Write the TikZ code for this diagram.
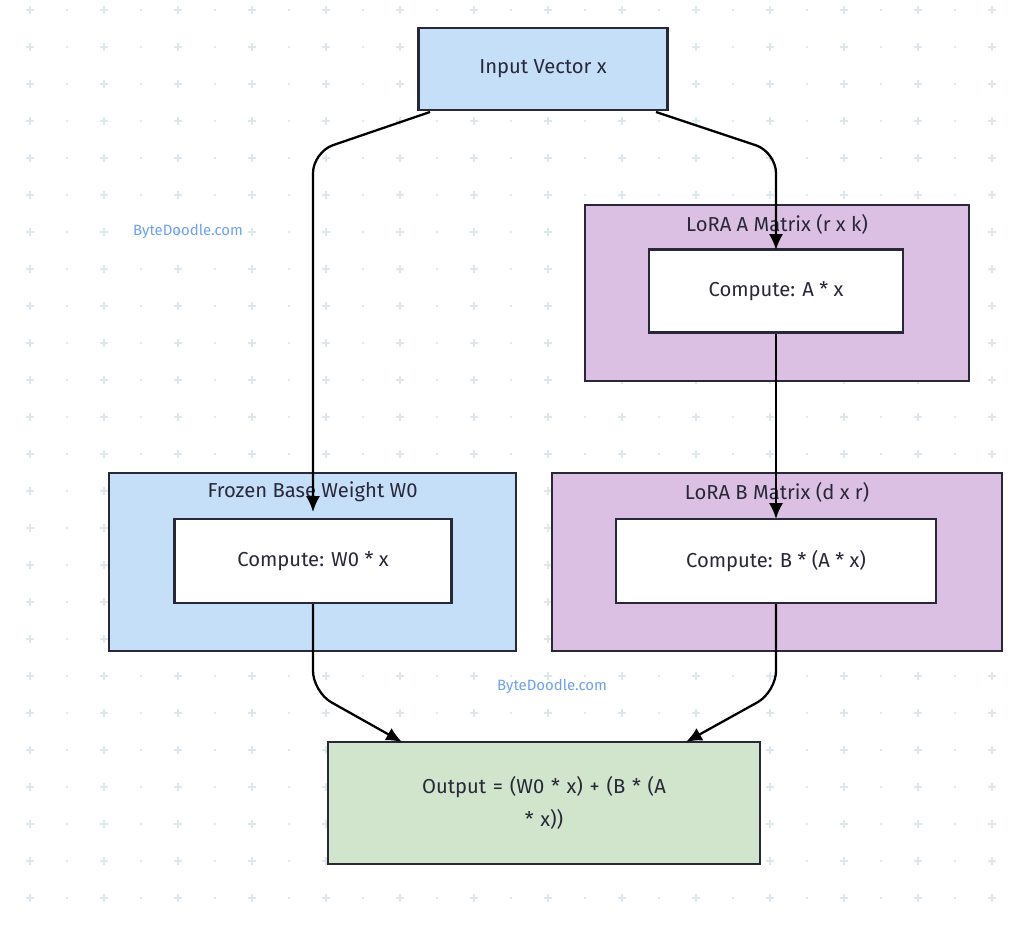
\documentclass[tikz,border=0pt]{standalone}
\usepackage{fontspec}
\setmainfont{Fira Sans}
\usetikzlibrary{arrows.meta,positioning}
\definecolor{inkdark}{RGB}{40,40,56}
\definecolor{baseblue}{RGB}{197,223,248}
\definecolor{lorapurple}{RGB}{220,192,228}
\definecolor{outgreen}{RGB}{208,229,203}
\definecolor{gridgray}{RGB}{222,232,236}
\definecolor{markblue}{RGB}{110,160,240}

\tikzset{
  box/.style={draw=inkdark,line width=1.3pt,font=\fontsize{11.5}{15}\selectfont,text=inkdark,inner sep=0pt},
  group/.style={box,anchor=north west},
  flow/.style={draw=black,line width=1.3pt,rounded corners=12pt,-{Latex[length=9pt,width=8pt]}},
  watermark/.style={text=markblue,font=\fontsize{8.5}{10}\selectfont}
}

\begin{document}
\begin{tikzpicture}[x=0.02cm,y=-0.02cm]
        \useasboundingbox (0,0) rectangle (1024,929);
        % Background dots and crosses
        \foreach \i in {0,...,27} {
            \foreach \j in {0,...,25} {
                \pgfmathsetmacro{\px}{30+37*\i}
                \pgfmathsetmacro{\py}{10+37*\j}
                \ifodd\i
                    \fill[gridgray] (\px,\py) circle (1.3);
                \else
                    \draw[gridgray,line width=0.8pt] (\px-4,\py) -- (\px+4,\py) (\px,\py-4) -- (\px,\py+4);
                \fi
            }
        }

        % Groups
        \node[group,fill=lorapurple,minimum width=7.68cm,minimum height=3.52cm] (groupA) at (584,204) {};
        \node[anchor=north,box,draw=none] at ([yshift=-0.18cm]groupA.north) {LoRA A Matrix (r x k)};
        \node[group,fill=baseblue,minimum width=8.14cm,minimum height=3.56cm] (groupW) at (108,472) {};
        \node[anchor=north,box,draw=none] at ([yshift=-0.18cm]groupW.north) {Frozen Base Weight W0};
        \node[group,fill=lorapurple,minimum width=9.0cm,minimum height=3.56cm] (groupB) at (551,472) {};
        \node[anchor=north,box,draw=none] at ([yshift=-0.18cm]groupB.north) {LoRA B Matrix (d x r)};

        % Nodes
        \node[box,fill=baseblue,minimum width=4.98cm,minimum height=1.64cm] (input) at (543,69) {Input Vector x};
        \node[box,fill=white,minimum width=5.08cm,minimum height=1.66cm] (computeA) at (776,291) {Compute: A * x};
        \node[box,fill=white,minimum width=5.54cm,minimum height=1.68cm] (computeW) at (313,561) {Compute: W0 * x};
        \node[box,fill=white,minimum width=6.4cm,minimum height=1.68cm] (computeB) at (776,561) {Compute: B * (A * x)};
        \node[box,fill=outgreen,minimum width=8.64cm,minimum height=2.44cm,align=center,text width=7.2cm] (output) at (544,803) {Output = (W0 * x) + (B * (A\\[4pt] * x))};

        % Watermarks
        \node[watermark] at (188,231) {ByteDoodle.com};
        \node[watermark] at (552,686) {ByteDoodle.com};

        % Connectors
        \coordinate (outW) at (430,112);
        \coordinate (outA) at (656,112);
        \draw[flow] (outW) -- (313,152) -- (313,512);
        \draw[flow] (outA) -- (776,152) -- (776,250);
        \draw[flow] (computeA.south) -- (776,519);
        \draw[flow] (computeW.south) -- (313,692) -- (402,742);
        \draw[flow] (computeB.south) -- (776,692) -- (686,742);
    \end{tikzpicture}
\end{document}
